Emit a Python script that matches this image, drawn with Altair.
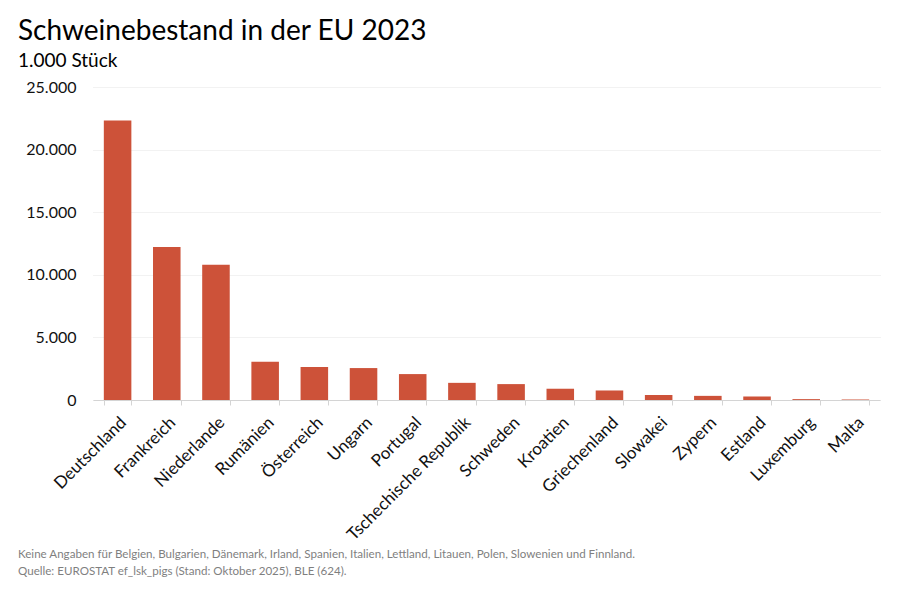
import altair as alt
import pandas as pd

countries = ["Deutschland", "Frankreich", "Niederlande", "Rumänien", "Österreich", "Ungarn",
             "Portugal", "Tschechische Republik", "Schweden", "Kroatien", "Griechenland",
             "Slowakei", "Zypern", "Estland", "Luxemburg", "Malta"]
values = [22330, 12220, 10800, 3060, 2630, 2550, 2070, 1370, 1270, 900, 760, 400, 330, 280, 70, 40]

title_text = "Schweinebestand in der EU 2023"
subtitle_text = "1.000 Stück"
footer_lines = [
    "Keine Angaben für Belgien, Bulgarien, Dänemark, Irland, Spanien, Italien, Lettland, Litauen, Polen, Slowenien und Finnland.",
    "Quelle: EUROSTAT ef_lsk_pigs (Stand: Oktober 2025), BLE (624).",
]
y_ticks = [0, 5000, 10000, 15000, 20000, 25000]

FONT = "Lato"
df = pd.DataFrame({"Land": countries, "Wert": values})

bars = alt.Chart(df).mark_bar(color="#CD5239").encode(
    x=alt.X("Land:N", sort=countries, title=None,
            scale=alt.Scale(paddingInner=0.44, paddingOuter=0.22),
            axis=alt.Axis(labelAngle=-45, labelFont=FONT, labelFontSize=17, labelColor="#111111",
                          domainColor="#d4d4d4", tickColor="#d4d4d4", tickSize=5, tickBand="extent",
                          labelPadding=9, grid=False)),
    y=alt.Y("Wert:Q", title=None, scale=alt.Scale(domain=[0, 25000], nice=False),
            axis=alt.Axis(values=y_ticks, domain=False, ticks=False, labelFont=FONT, labelFontSize=16,
                          labelColor="#111111", labelPadding=17, gridColor="#e4e4e4", gridDash=[1, 1],
                          labelExpr="replace(format(datum.value, ','), ',', '.')")),
)

title = alt.Chart(pd.DataFrame({"t": [title_text]})).mark_text(
    font=FONT, fontSize=28, align="left", baseline="alphabetic", color="#000000"
).encode(text="t:N", x=alt.value(-75), y=alt.value(-47))

subtitle = alt.Chart(pd.DataFrame({"t": [subtitle_text]})).mark_text(
    font=FONT, fontSize=19, align="left", baseline="alphabetic", color="#000000"
).encode(text="t:N", x=alt.value(-75), y=alt.value(-20))

footer1 = alt.Chart(pd.DataFrame({"t": [footer_lines[0]]})).mark_text(
    font=FONT, fontSize=11.6, align="left", baseline="alphabetic", color="#7f7f7f"
).encode(text="t:N", x=alt.value(-75), y=alt.value(471))

footer2 = alt.Chart(pd.DataFrame({"t": [footer_lines[1]]})).mark_text(
    font=FONT, fontSize=11.6, align="left", baseline="alphabetic", color="#7f7f7f"
).encode(text="t:N", x=alt.value(-75), y=alt.value(488))

chart = alt.layer(bars, title, subtitle, footer1, footer2).properties(
    width=787, height=313,
    background="white",
    autosize=alt.AutoSizeParams(type="none"),
    padding={"left": 85, "top": 79, "right": 12, "bottom": 180},
).configure_view(stroke="transparent", strokeWidth=0)

chart.save("out.html", embed_options={"renderer": "svg", "actions": False})
